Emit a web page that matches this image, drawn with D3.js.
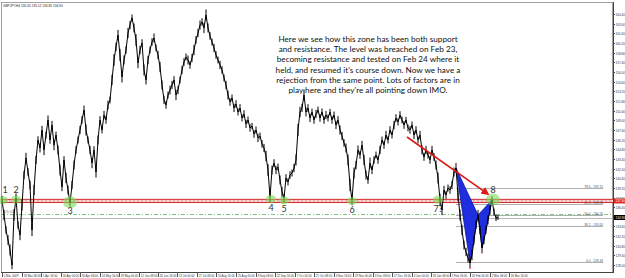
<!DOCTYPE html>
<html><head><meta charset="utf-8">
<script src="https://cdn.jsdelivr.net/npm/d3@7"></script>
<style>html,body{margin:0;padding:0;background:#fff;}svg{display:block;}</style>
</head><body>
<script>
// ---- data ----
const symbolHeader = "GBPJPY,H4 135.05 135.12 134.85 134.90";
const closes = [
137.44,135.26,133.09,131.64,130.19,128.01,135.26,137.73,133.81,132.36,
136.71,141.06,143.53,141.50,139.61,133.09,138.89,143.24,146.14,144.98,
147.59,144.69,146.86,149.04,146.14,148.31,145.41,146.86,144.69,141.79,
139.32,143.24,140.63,138.89,137.00,139.61,142.51,144.69,146.14,147.59,
149.04,150.49,147.59,146.14,144.69,142.80,144.69,141.50,146.14,149.04,
147.59,149.76,149.04,151.21,151.94,154.84,157.74,159.62,161.36,158.46,
155.27,157.74,159.19,161.65,162.81,163.83,162.38,160.64,157.30,159.19,
160.20,156.29,154.84,157.74,159.19,160.34,160.93,159.48,158.46,156.72,
154.11,151.94,151.21,152.66,153.39,154.11,154.84,152.66,153.39,154.84,
156.29,157.45,158.17,157.74,157.01,158.03,159.19,160.64,161.65,162.81,
163.25,162.38,164.26,162.38,161.22,160.34,159.48,158.46,157.74,157.01,
156.29,155.13,154.11,152.66,151.65,152.23,150.78,151.36,150.20,150.78,
149.33,149.91,148.46,149.04,147.88,148.17,147.01,147.59,146.43,146.72,
145.56,144.98,143.82,141.79,137.87,141.79,142.80,141.79,142.22,140.34,
138.60,137.73,140.63,140.05,141.06,141.35,142.07,143.24,147.59,150.20,
150.78,152.66,150.20,150.78,149.33,150.20,149.04,149.91,150.49,149.33,
150.20,149.04,149.76,149.33,150.20,149.04,149.76,148.31,149.04,147.59,
146.72,145.70,144.98,143.24,139.61,137.44,141.35,142.51,144.69,143.96,
145.41,143.24,141.06,140.34,142.80,141.79,143.24,143.96,143.24,144.69,
146.14,145.41,146.86,146.14,147.59,146.86,148.31,149.33,148.75,149.76,
149.04,148.31,149.04,147.88,147.59,148.31,146.86,147.59,146.14,146.86,
144.69,143.67,144.69,143.96,143.24,144.69,143.67,142.51,140.63,137.44,
135.99,138.89,138.16,139.18,138.89,139.61,141.50,142.07,138.16,135.26,
133.09,130.91,129.90,129.03,128.30,129.46,131.64,133.81,135.26,133.09,
130.48,131.64,133.09,134.54,135.99,137.44,135.70,134.83,134.90
];
// high-low span of the bars grouped at each point (yen)
const barRange = [
1.2,1.5,1.1,1.4,1.6,1.2,1.7,1.3,1.1,1.5,
1.6,1.2,1.5,1.1,1.3,1.8,1.5,1.2,1.1,1.3,
1.2,1.5,1.0,1.3,1.1,1.2,1.5,1.0,1.3,1.6,
1.2,1.1,1.5,1.3,1.0,1.2,1.3,1.1,1.0,1.2,
1.1,1.3,1.6,1.0,1.2,1.5,1.1,1.6,1.3,1.1,
1.0,1.2,1.1,1.3,1.0,1.5,1.7,1.2,1.5,1.8,
1.6,1.3,1.1,1.5,1.2,1.0,1.3,1.7,1.5,1.2,
1.1,1.6,1.3,1.2,1.0,1.1,1.3,1.0,1.2,1.5,
1.3,1.2,1.1,1.0,1.3,1.2,1.1,1.5,1.2,1.0,
1.2,1.1,1.0,1.3,1.1,1.2,1.5,1.1,1.2,1.3,
1.1,1.5,1.6,1.3,1.1,1.0,1.2,1.1,1.0,1.2,
1.1,1.0,1.2,1.3,1.1,1.0,1.2,1.1,1.0,1.1,
1.0,1.1,1.2,1.0,1.1,0.9,1.1,1.0,1.2,1.0,
1.1,1.2,1.5,1.7,1.6,1.3,1.1,1.2,1.0,1.3,
1.5,1.2,1.1,1.0,1.1,1.0,1.2,1.6,1.8,1.5,
1.2,1.6,1.3,1.1,1.2,1.0,1.1,1.2,1.0,1.1,
1.0,1.1,1.2,1.0,0.9,1.1,1.0,1.2,1.1,1.3,
1.2,1.1,1.3,1.6,1.8,1.5,1.6,1.2,1.3,1.1,
1.2,1.5,1.3,1.1,1.6,1.2,1.1,1.0,1.1,1.2,
1.0,1.1,1.2,1.0,1.1,1.0,1.2,1.1,1.0,1.1,
1.0,1.1,0.9,1.0,1.1,1.0,1.2,1.1,1.0,1.2,
1.3,1.1,1.2,1.0,1.1,1.2,1.1,1.3,1.6,1.8,
1.5,1.2,1.1,1.0,1.1,1.2,1.3,1.5,1.7,1.6,
1.5,1.3,1.2,1.3,1.6,1.5,1.3,1.2,1.5,1.3,
1.5,1.2,1.1,1.3,1.2,1.1,1.0,0.9,0.7
];
const dateLabels = ["2 Mar 2009","18 Mar 08:00","1 Apr 16:00","16 Apr 00:00","30 Apr 08:00","14 May 16:00",
"29 May 00:00","12 Jun 08:00","26 Jun 16:00","13 Jul 00:00","27 Jul 08:00","10 Aug 16:00","25 Aug 00:00",
"8 Sep 08:00","22 Sep 16:00","7 Oct 00:00","21 Oct 08:00","4 Nov 16:00","19 Nov 00:00","3 Dec 08:00",
"17 Dec 16:00","4 Jan 00:00","18 Jan 08:00","1 Feb 16:00","16 Feb 00:00","2 Mar 08:00","16 Mar 16:00"];
const priceTicks = d3.range(0, 27).map(k => +(164.40 - 1.40 * k).toFixed(2));
const zoneTop = 137.53, zoneBottom = 137.07;
const greenLevel = 135.40;
const fibX = {i: 227, p: 142.07}, fibA = {i: 234, p: 128.44};
const fibLevels = [78.6, 61.8, 50.0, 38.2, 0.0];
const harmonic = [{n:"X", i:227, p:142.07},{n:"A", i:234, p:128.30},{n:"B", i:238, p:135.26},{n:"C", i:240, p:130.48},{n:"D", i:245, p:137.44}];
const touches = [
  {label:"1", i:0.5, p:137.40, big:false, above:true},
  {label:"2", i:7, p:137.50, big:false, above:true},
  {label:"3", i:34, p:137.10, big:true, above:false},
  {label:"4", i:134.5, p:137.60, big:false, above:false},
  {label:"5", i:141, p:137.40, big:false, above:false},
  {label:"6", i:175, p:137.30, big:false, above:false},
  {label:"7?", i:218, p:137.50, big:false, above:false},
  {label:"8", i:245.5, p:137.50, big:true, above:true}
];
const arrowFrom = {i: 202.5, p: 146.57}, arrowTo = {i: 243, p: 138.30};
const noteLines = [
  "Here we see how this zone has been both support",
  "and resistance. The level was breached on Feb 23,",
  "becoming resistance and tested on Feb 24 where it",
  "held, and resumed it's course down. Now we have a",
  "rejection from the same point. Lots of factors are in",
  "play here and they're all pointing down IMO."
];

// ---- layout ----
const W = 625, H = 278;
const pl = 1, pr = 613, pt0 = 2, pb = 272;
const svg = d3.select("body").append("svg").attr("width", W).attr("height", H);
const x = d3.scaleLinear().domain([0, closes.length - 1]).range([2, 498]);
const y = d3.scaleLinear().domain([127.0, 166.0]).range([272, 3]);
const small = "Liberation Sans";

// frame
svg.append("rect").attr("x", pl + 0.5).attr("y", pt0 + 0.5).attr("width", pr - pl - 1).attr("height", pb - pt0)
  .attr("fill", "none").attr("stroke", "#a0a0a0").attr("stroke-width", 1);
svg.append("line").attr("x1", pr + 0.5).attr("x2", pr + 0.5).attr("y1", pt0).attr("y2", pb + 1).attr("stroke", "#444");
svg.append("line").attr("x1", pl).attr("x2", pr + 1).attr("y1", pb + 0.5).attr("y2", pb + 0.5).attr("stroke", "#444");

// header
svg.append("text").attr("x", 3).attr("y", 6.5).attr("font-family", small).attr("font-size", 3.2).attr("fill", "#222").text(symbolHeader);

// price axis
priceTicks.forEach(v => {
  const yy = Math.round(y(v)) + 0.5;
  svg.append("line").attr("x1", pr).attr("x2", pr + 2).attr("y1", yy).attr("y2", yy).attr("stroke", "#444");
  svg.append("text").attr("x", 615.5).attr("y", yy + 1.1).attr("font-family", small).attr("font-size", 3.1).attr("fill", "#333").text(v.toFixed(2));
});

// date axis
const step = 9.75;
dateLabels.forEach((s, k) => {
  const xx = Math.round(x(k * step)) + 0.5;
  svg.append("line").attr("x1", xx).attr("x2", xx).attr("y1", pb).attr("y2", pb + 5).attr("stroke", "#555");
  svg.append("text").attr("x", xx + 1.2).attr("y", 276.5).attr("font-family", small).attr("font-size", 2.9).attr("fill", "#333").text(s);
});

// zone
svg.append("rect").attr("x", pl).attr("width", pr - pl).attr("y", y(zoneTop)).attr("height", y(zoneBottom) - y(zoneTop)).attr("fill", "#f7d6d6");
[zoneTop, zoneBottom].forEach(v => svg.append("line").attr("x1", pl).attr("x2", pr).attr("y1", y(v)).attr("y2", y(v)).attr("stroke", "#d42a2a").attr("stroke-width", 1));
svg.append("line").attr("x1", pl).attr("x2", pr).attr("y1", y((zoneTop + zoneBottom) / 2)).attr("y2", y((zoneTop + zoneBottom) / 2))
  .attr("stroke", "#e07070").attr("stroke-width", 0.7).attr("stroke-dasharray", "2,2");

// green dash-dot line and bid line
svg.append("line").attr("x1", pl).attr("x2", pr).attr("y1", Math.round(y(greenLevel)) + 0.5).attr("y2", Math.round(y(greenLevel)) + 0.5)
  .attr("stroke", "#5cb85c").attr("stroke-width", 0.8).attr("stroke-dasharray", "4,2,1,2");
const last = closes[closes.length - 1];
svg.append("line").attr("x1", pl).attr("x2", pr).attr("y1", Math.round(y(last)) + 0.5).attr("y2", Math.round(y(last)) + 0.5)
  .attr("stroke", "#b8b8b8").attr("stroke-width", 1);
svg.append("text").attr("x", 4).attr("y", y(greenLevel) - 1.5).attr("font-family", small).attr("font-size", 3).attr("fill", "#888").text(greenLevel.toFixed(2));

// fib levels
fibLevels.forEach(l => {
  const v = fibA.p + (fibX.p - fibA.p) * l / 100;
  const yy = Math.round(y(v)) + 0.5;
  svg.append("line").attr("x1", x(fibX.i)).attr("x2", 603).attr("y1", yy).attr("y2", yy).attr("stroke", "#9a9a9a").attr("stroke-width", 0.8);
  svg.append("text").attr("x", 603).attr("y", yy - 1).attr("text-anchor", "end").attr("font-family", small).attr("font-size", 3.2).attr("fill", "#555")
    .text(l.toFixed(1) + " - " + v.toFixed(2));
});

// harmonic pattern
const pt = d => [x(d.i), y(d.p)];
const [X, A, B, C, D] = harmonic;
svg.append("polygon").attr("points", [X, A, B].map(pt).join(" ")).attr("fill", "#1f2fe0").attr("stroke", "#0a12a0").attr("stroke-width", 0.8);
svg.append("polygon").attr("points", [B, C, D].map(pt).join(" ")).attr("fill", "#1f2fe0").attr("stroke", "#0a12a0").attr("stroke-width", 0.8);

// price bars + close line
svg.append("g").selectAll("line").data(closes).join("line")
  .attr("x1", (d, i) => x(i)).attr("x2", (d, i) => x(i))
  .attr("y1", (d, i) => y(d + barRange[i] / 2)).attr("y2", (d, i) => y(d - barRange[i] / 2))
  .attr("stroke", "#000").attr("stroke-width", 1);
svg.append("path").datum(closes).attr("fill", "none").attr("stroke", "#000").attr("stroke-width", 1)
  .attr("d", d3.line().x((d, i) => x(i)).y(d => y(d)));

// pattern point labels
[[X, -2], [A, 6], [C, 6]].forEach(([d, dy]) => svg.append("text").attr("x", x(d.i)).attr("y", y(d.p) + dy).attr("text-anchor", "middle")
  .attr("font-family", small).attr("font-size", 3.5).attr("fill", "#e07080").text(d.n));

// touch markers
touches.forEach(t => {
  svg.append("ellipse").attr("cx", x(t.i)).attr("cy", y(t.p)).attr("rx", t.big ? 7 : 5).attr("ry", t.big ? 6 : 4)
    .attr("fill", "#7ed957").attr("opacity", 0.6);
});
touches.forEach(t => {
  svg.append("text").attr("x", x(t.i) + (t.label === "1" ? 2 : 0)).attr("y", t.above ? y(t.p) - 7 : y(t.p) + 12)
    .attr("text-anchor", "middle").attr("font-family", "Lato").attr("font-size", 9).attr("fill", "#333").text(t.label);
});

// arrow
const defs = svg.append("defs");
defs.append("marker").attr("id", "ah").attr("viewBox", "0 0 10 10").attr("refX", 8).attr("refY", 5)
  .attr("markerWidth", 5).attr("markerHeight", 5).attr("orient", "auto")
  .append("path").attr("d", "M0,0 L10,5 L0,10 z").attr("fill", "#e01818");
svg.append("line").attr("x1", x(arrowFrom.i)).attr("y1", y(arrowFrom.p)).attr("x2", x(arrowTo.i)).attr("y2", y(arrowTo.p))
  .attr("stroke", "#e01818").attr("stroke-width", 1.6).attr("marker-end", "url(#ah)");

// right axis boxes
function priceBox(v, bg, fg) {
  const yy = y(v);
  svg.append("rect").attr("x", 614).attr("y", yy - 2.5).attr("width", 11).attr("height", 5).attr("fill", bg);
  svg.append("text").attr("x", 615.5).attr("y", yy + 1.1).attr("font-family", small).attr("font-size", 3.1).attr("fill", fg).text(v.toFixed(2));
}
priceBox((zoneTop + zoneBottom) / 2, "#e02828", "#fff");
priceBox(last, "#000", "#fff");

// note text
const note = svg.append("text").attr("font-family", "Lato").attr("font-size", 8.2).attr("fill", "#111").attr("text-anchor", "middle");
noteLines.forEach((s, k) => note.append("tspan").attr("x", 368).attr("y", 42 + k * 10.2).text(s));
</script>
</body></html>
